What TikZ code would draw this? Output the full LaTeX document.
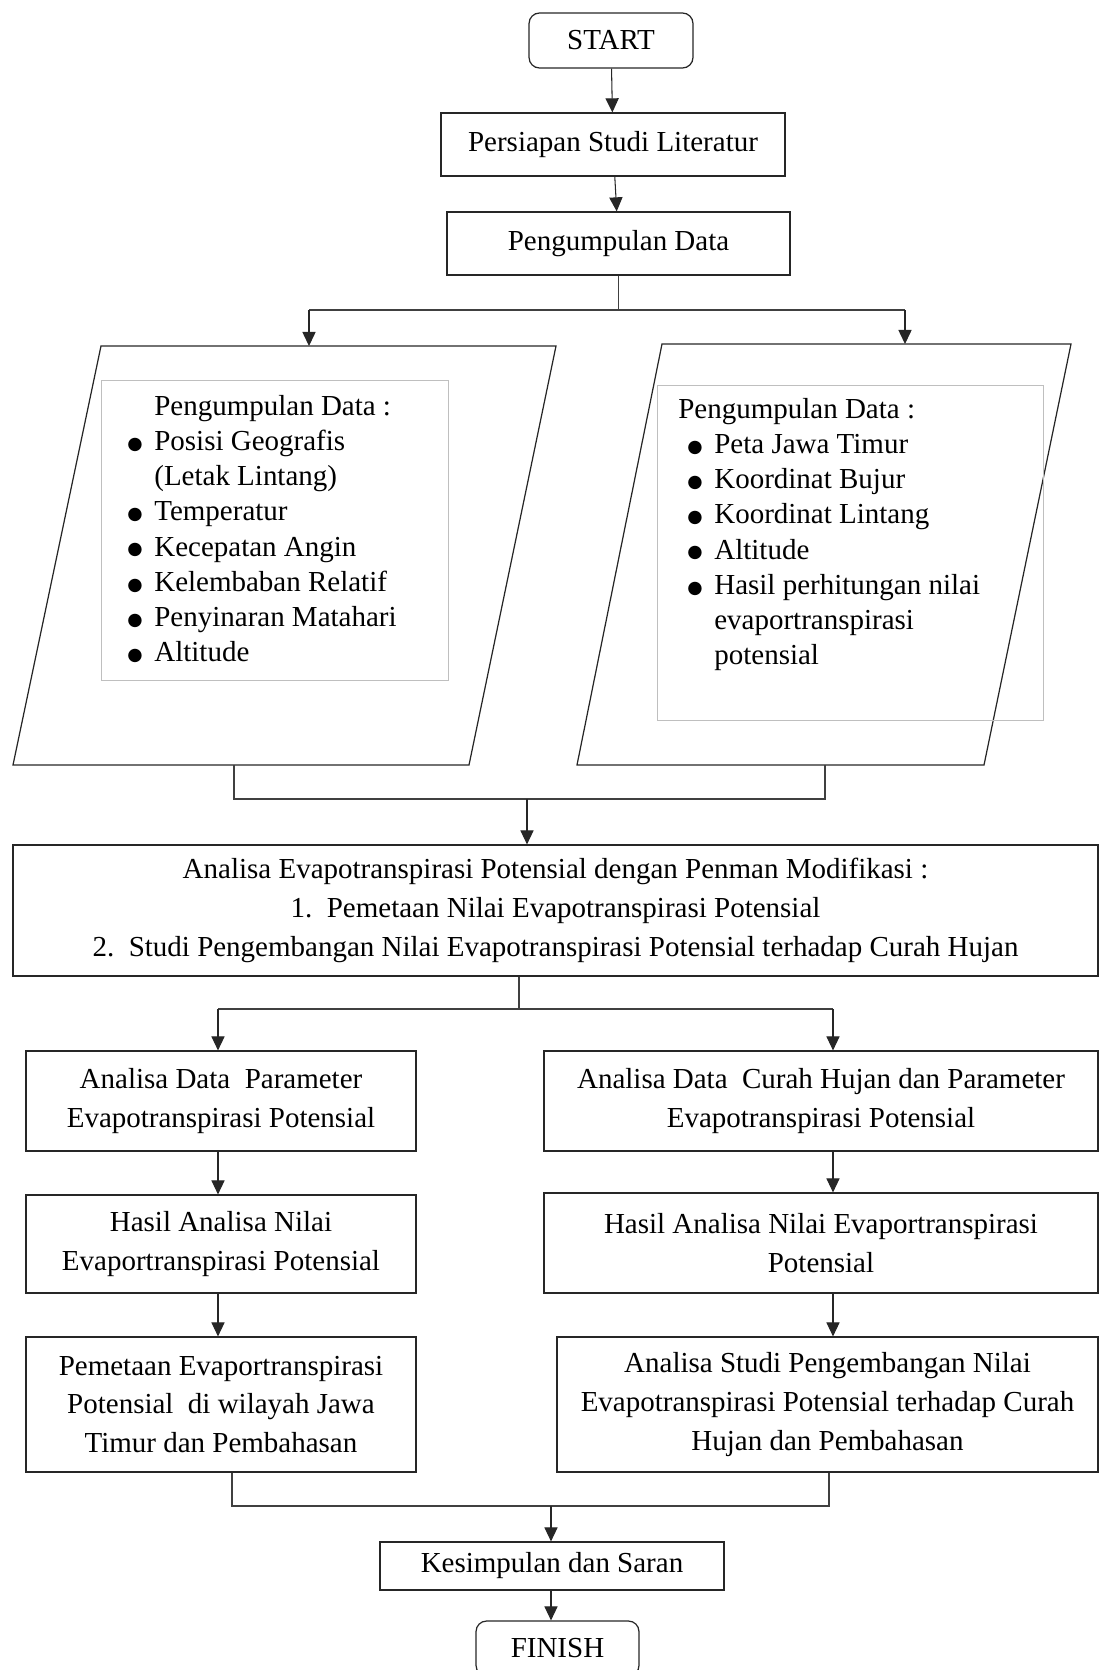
\documentclass[tikz,border=0pt]{standalone}
\usepackage{fontspec}
\setmainfont{Liberation Serif}
\newfontfamily\symfont{DejaVu Sans}
\usetikzlibrary{arrows.meta}

\newcommand{\itm}{\makebox[0.54cm][l]{\raisebox{0.6pt}{\symfont\fontsize{10}{10}\selectfont ●}}}
\newcommand{\ind}{\hspace*{0.54cm}}

\begin{document}
\begin{tikzpicture}[
      x=0.02cm, y=-0.02cm,
      every node/.style={font=\fontsize{16.5}{22}\selectfont},
      box/.style={draw=black!85, line width=0.7pt, align=center, inner sep=3pt},
      term/.style={box, rounded corners=6pt},
      para/.style={draw=black!85, line width=0.7pt},
      lst/.style={draw=black!25, line width=0.5pt},
      lsttxt/.style={align=left, inner sep=0pt, anchor=north west,
        font=\fontsize{16.5}{20}\selectfont},
      arr/.style={draw=black!85, line width=0.6pt, -{Triangle[length=8pt,width=7.5pt]}},
      ln/.style={draw=black!75, line width=0.6pt},
    ]
    \useasboundingbox (0,0) rectangle (1112,1670);
    \clip (0,0) rectangle (1112,1670);

    \node[term, minimum width=3.28cm, minimum height=1.1cm] (start) at (611,40.5) {START};
    \node[box, minimum width=6.88cm, minimum height=1.26cm] (lit) at (613,144.5) {Persiapan Studi Literatur};
    \node[box, minimum width=6.86cm, minimum height=1.26cm] (data) at (618.5,243.5) {Pengumpulan Data};

    % parallelograms
    \coordinate (lpnw) at (101,346);
    \coordinate (lpsw) at (13,765);
    \coordinate (rpnw) at (662,344);
    \coordinate (rpsw) at (577,765);
    \draw[para] (lpnw) -- (556,346) -- (469,765) -- (lpsw) -- cycle;
    \draw[para] (rpnw) -- (1071,344) -- (984,765) -- (rpsw) -- cycle;

    \node[lst, minimum width=6.94cm, minimum height=6cm] (lbox) at (274.5,530) {};
    \node[lsttxt] (ltxt) at (127,395) {\ind Pengumpulan Data :\\ \itm Posisi Geografis\\
      \ind (Letak Lintang)\\ \itm Temperatur\\ \itm Kecepatan Angin\\
      \itm Kelembaban Relatif\\ \itm Penyinaran Matahari\\ \itm Altitude};

    \node[lst, minimum width=7.72cm, minimum height=6.7cm] (rbox) at (850,552.5) {};
    \node[lsttxt] (rtxt) at (678,398) {Pengumpulan Data :\\
      \hspace*{0.18cm}\itm Peta Jawa Timur\\ \hspace*{0.18cm}\itm Koordinat Bujur\\
      \hspace*{0.18cm}\itm Koordinat Lintang\\ \hspace*{0.18cm}\itm Altitude\\
      \hspace*{0.18cm}\itm Hasil perhitungan nilai\\ \hspace*{0.72cm}evaportranspirasi\\
      \hspace*{0.72cm}potensial};

    \node[box, minimum width=21.7cm, minimum height=2.62cm] (ana) at (555.5,910.5)
      {Analisa Evapotranspirasi Potensial dengan Penman Modifikasi :\\
       1.~~Pemetaan Nilai Evapotranspirasi Potensial\\
       2.~~Studi Pengembangan Nilai Evapotranspirasi Potensial terhadap Curah Hujan};

    \node[box, minimum width=7.8cm, minimum height=2cm] (l1) at (221,1101)
      {Analisa Data~ Parameter\\Evapotranspirasi Potensial};
    \node[box, minimum width=7.8cm, minimum height=1.96cm] (l2) at (221,1244)
      {Hasil Analisa Nilai\\Evaportranspirasi Potensial};
    \node[box, minimum width=7.8cm, minimum height=2.7cm] (l3) at (221,1404.5)
      {Pemetaan Evaportranspirasi\\Potensial~ di wilayah Jawa\\Timur dan Pembahasan};

    \node[box, minimum width=11.08cm, minimum height=2cm] (r1) at (821,1101)
      {Analisa Data~ Curah Hujan dan Parameter\\Evapotranspirasi Potensial};
    \node[box, minimum width=11.08cm, minimum height=2cm] (r2) at (821,1243)
      {Hasil Analisa Nilai Evaportranspirasi\\Potensial};
    \node[box, minimum width=10.82cm, minimum height=2.7cm] (r3) at (827.5,1404.5)
      {Analisa Studi Pengembangan Nilai\\Evapotranspirasi Potensial terhadap Curah\\Hujan dan Pembahasan};

    \node[box, minimum width=6.88cm, minimum height=0.96cm] (kes) at (552,1566) {Kesimpulan dan Saran};
    \node[term, minimum width=3.26cm, minimum height=1.1cm] (fin) at (557.5,1648.5) {FINISH};

    \draw[arr] (start) -- (lit);
    \draw[arr] (lit) -- (data);

    \coordinate (s1l) at (309,310);
    \coordinate (s1r) at (905,310);
    \draw[ln] (data.south) |- (s1l);
    \draw[ln] (data.south) |- (s1r);
    \draw[arr] (s1l) -- (s1l |- lpnw);
    \draw[arr] (s1r) -- (s1r |- rpnw);

    \coordinate (j1l) at (234,799);
    \coordinate (j1r) at (825,799);
    \coordinate (j1) at (527,799);
    \draw[ln] (j1l |- lpsw) -- (j1l) -- (j1r) -- (j1r |- rpsw);
    \draw[arr] (j1) -- (j1 |- ana.north);

    \coordinate (s2) at (519,1009);
    \coordinate (s2l) at (218,1009);
    \coordinate (s2r) at (833,1009);
    \draw[ln] (s2 |- ana.south) -- (s2);
    \draw[ln] (s2l) -- (s2r);
    \draw[arr] (s2l) -- (s2l |- l1.north);
    \draw[arr] (s2r) -- (s2r |- r1.north);
    \draw[arr] (l1.south -| s2l) -- (l2.north -| s2l);
    \draw[arr] (l2.south -| s2l) -- (l3.north -| s2l);
    \draw[arr] (r1.south -| s2r) -- (r2.north -| s2r);
    \draw[arr] (r2.south -| s2r) -- (r3.north -| s2r);

    \coordinate (j2l) at (232,1506);
    \coordinate (j2r) at (829,1506);
    \coordinate (j2) at (551,1506);
    \draw[ln] (j2l |- l3.south) -- (j2l) -- (j2r) -- (j2r |- r3.south);
    \draw[arr] (j2) -- (j2 |- kes.north);
    \draw[arr] (kes.south -| j2) -- (fin.north -| j2);
  \end{tikzpicture}
\end{document}
